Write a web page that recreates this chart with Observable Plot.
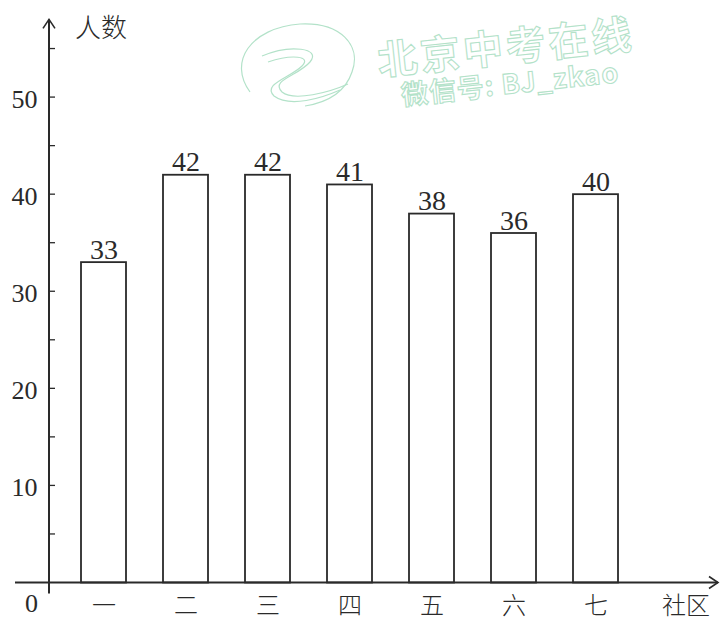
<!DOCTYPE html>
<html><head><meta charset="utf-8">
<script src="https://cdn.jsdelivr.net/npm/d3@7"></script>
<script src="https://cdn.jsdelivr.net/npm/@observablehq/plot@0.6"></script>
<style>
body{margin:0;background:#fff;}
#wrap{position:relative;width:720px;height:621px;overflow:hidden;}
#wm{position:absolute;left:0;top:0;pointer-events:none;}
</style></head><body>
<div id="wrap"><div id="chart"></div>
<svg id="wm" width="720" height="621">
  <g fill="none" stroke="#b3e2c9" stroke-width="1.2" stroke-linejoin="round">
    <path d="M250,92 C228,62 250,28 300,24 C340,22 362,45 352,72 C346,90 330,102 305,106"/>
    <path d="M262,56 C290,44 322,48 310,62 C298,76 270,80 282,92 C294,102 330,92 348,84"/>
    <path d="M268,62 C292,54 312,56 302,66 C290,78 262,84 274,96 C290,108 322,98 340,90"/>
  </g>
  <g transform="rotate(-6 505 60)" fill="#fff" stroke="#b3e2c9" stroke-width="1.1" font-family="Noto Sans CJK SC" font-weight="700">
    <text x="378" y="62" font-size="40" letter-spacing="3">北京中考在线</text>
    <text x="398" y="94" font-size="27" letter-spacing="1">微信号: BJ_zkao</text>
  </g>
</svg></div>
<script>
const communities = ["一", "二", "三", "四", "五", "六", "七"];
const counts = [33, 42, 42, 41, 38, 36, 40];
const yTickLabels = [10, 20, 30, 40, 50];
const yMinorTicks = [5, 10, 15, 20, 25, 30, 35, 40, 45, 50, 55];
const yAxisTitle = "人数";
const xAxisTitle = "社区";
const originLabel = "0";

const data = communities.map((c, i) => ({community: c, count: counts[i]}));
const ink = "#2a2a2a";
const serif = "Liberation Serif, Times New Roman, Times, serif";
const cjk = "Noto Sans CJK SC, sans-serif";

function axes(index, scales, values, dims) {
  const y = scales.y;
  const g = d3.create("svg:g").attr("stroke", ink).attr("fill", "none");
  const x0 = dims.marginLeft;
  const y0 = y(0);
  const right = dims.width - 2;
  const top = y(58);
  g.append("line").attr("x1", 15).attr("x2", right).attr("y1", y0).attr("y2", y0).attr("stroke-width", 2);
  g.append("path").attr("d", `M${right - 9},${y0 - 6}L${right},${y0}L${right - 9},${y0 + 6}`).attr("stroke-width", 1.6);
  g.append("line").attr("x1", x0).attr("x2", x0).attr("y1", y0 + 11).attr("y2", top).attr("stroke-width", 2);
  g.append("path").attr("d", `M${x0 - 6},${top + 9}L${x0},${top}L${x0 + 6},${top + 9}`).attr("stroke-width", 1.6);
  for (const v of yMinorTicks) {
    g.append("line").attr("x1", x0).attr("x2", x0 + 6).attr("y1", y(v)).attr("y2", y(v)).attr("stroke-width", 1.3);
  }
  const t = g.append("g").attr("stroke", "none").attr("fill", ink);
  t.append("text").attr("x", 75).attr("y", y(58) + 8).attr("dy", "0.35em").attr("text-anchor", "start")
    .attr("font-family", cjk).attr("font-weight", 300).attr("font-size", 26).text(yAxisTitle);
  t.append("text").attr("x", 686).attr("y", y0 + 23).attr("dy", "0.35em").attr("text-anchor", "middle")
    .attr("font-family", cjk).attr("font-weight", 300).attr("font-size", 24).text(xAxisTitle);
  t.append("text").attr("x", 31.5).attr("y", y0 + 21).attr("dy", "0.33em").attr("text-anchor", "middle")
    .attr("font-family", serif).attr("font-size", 26).text(originLabel);
  return g.node();
}

const chart = Plot.plot({
  width: 720,
  height: 621,
  marginLeft: 49,
  marginRight: 0,
  marginTop: 0,
  marginBottom: 38.5,
  style: {fontFamily: serif, background: "transparent", color: ink},
  x: {type: "band", domain: communities, range: [42.7, 656.1], padding: 0.453, axis: null},
  y: {domain: [0, 60], axis: null},
  marks: [
    Plot.barY(data, {x: "community", y: "count", fill: "white", stroke: ink, strokeWidth: 1.8}),
    Plot.text(data, {x: "community", y: "count", text: d => String(d.count), lineAnchor: "bottom", dy: -4, fontSize: 28, fontFamily: serif, fill: ink}),
    Plot.text(communities, {x: d => d, frameAnchor: "bottom", dy: 23, lineAnchor: "middle", fontSize: 24, fontFamily: cjk, fontWeight: 300, fill: ink}),
    Plot.axisY({ticks: yTickLabels, tickSize: 0, tickPadding: 12, fontSize: 26, fontFamily: serif, label: null, dy: 2}),
    axes
  ]
});
document.getElementById("chart").appendChild(chart);
</script>
</body></html>
